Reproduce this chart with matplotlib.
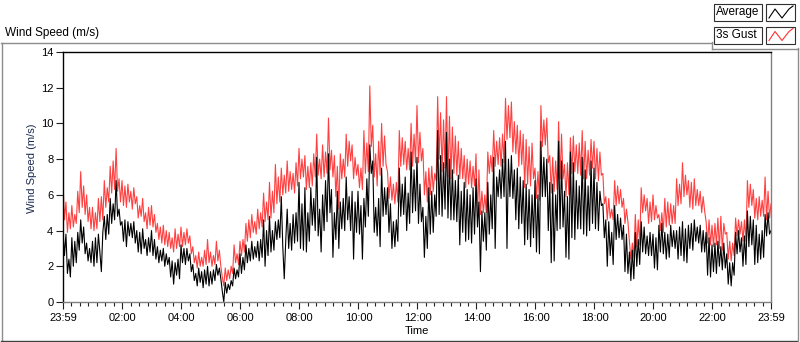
import numpy as np
import pandas as pd
import matplotlib
matplotlib.use("Agg")
import matplotlib.pyplot as plt
import matplotlib.dates as mdates
from matplotlib.lines import Line2D
from matplotlib.patches import Rectangle

plt.rcParams['font.family'] = ['Liberation Sans', 'DejaVu Sans']

# wind speed, one value every 3 minutes from 23:59 (one row per hour)
gust = [
    6.7, 4.6, 5.6, 3.9, 5.0, 4.1, 5.4, 4.2, 4.9, 4.4, 6.2, 5.0, 7.3, 5.3, 6.5, 4.9, 6.0, 4.5, 5.3, 4.1,
    5.3, 4.0, 5.0, 4.1, 5.8, 4.5, 5.9, 4.6, 6.8, 5.3, 6.4, 5.6, 7.6, 6.1, 7.9, 6.3, 8.6, 6.2, 6.9, 5.6,
    6.8, 5.4, 6.5, 5.3, 6.6, 5.6, 6.2, 5.2, 6.4, 5.5, 5.9, 4.7, 5.4, 4.8, 5.8, 4.5, 5.0, 4.1, 5.3, 4.3,
    5.4, 4.2, 4.9, 3.9, 4.4, 3.5, 4.2, 3.3, 4.3, 3.2, 4.0, 3.1, 3.9, 3.0, 3.6, 2.8, 4.1, 3.0, 3.8, 3.1,
    4.2, 3.1, 3.9, 3.2, 4.1, 3.3, 3.7, 2.7, 3.1, 2.2, 2.6, 1.9, 2.8, 2.0, 2.5, 2.0, 2.9, 2.1, 3.5, 2.2,
    2.8, 2.0, 2.6, 2.1, 3.4, 2.3, 2.9, 2.0, 1.4, 0.9, 1.9, 1.2, 1.8, 1.3, 2.0, 1.6, 3.2, 2.2, 2.7, 2.1,
    3.4, 2.6, 3.5, 2.8, 4.4, 3.4, 4.6, 3.6, 4.9, 3.9, 4.5, 3.8, 5.2, 4.1, 5.0, 4.2, 6.1, 4.5, 5.6, 4.6,
    6.7, 4.7, 6.2, 5.0, 7.7, 5.5, 7.0, 5.6, 7.5, 6.0, 7.1, 6.1, 7.9, 6.2, 7.3, 6.3, 7.2, 6.1, 7.8, 6.5,
    8.6, 6.9, 8.0, 7.0, 8.2, 6.3, 7.6, 6.4, 7.8, 6.5, 8.3, 7.0, 9.4, 7.1, 8.0, 6.9, 8.8, 7.0, 8.4, 7.2,
    10.3, 7.4, 8.5, 7.0, 8.2, 5.9, 7.6, 5.2, 8.3, 6.9, 8.0, 7.0, 9.4, 7.6, 9.0, 7.9, 8.8, 6.9, 8.1, 7.1,
    7.7, 6.4, 7.5, 6.3, 9.6, 7.2, 8.9, 7.3, 12.1, 8.7, 9.9, 7.0, 8.3, 6.5, 9.0, 7.1, 10.0, 7.6, 9.3, 7.7,
    7.3, 5.8, 7.0, 5.7, 6.6, 5.5, 6.7, 5.6, 9.6, 7.6, 9.2, 7.7, 9.0, 7.4, 8.6, 7.4, 10.0, 7.6, 9.4, 7.8,
    11.0, 7.8, 9.5, 7.9, 8.6, 6.0, 7.3, 5.6, 7.5, 6.0, 7.6, 6.2, 7.2, 6.8, 11.5, 8.0, 10.6, 7.3, 10.2, 7.5,
    11.5, 7.0, 10.4, 6.9, 9.8, 7.2, 9.3, 7.1, 9.0, 6.9, 8.6, 6.9, 8.2, 6.4, 8.0, 6.6, 7.9, 6.4, 7.6, 6.5,
    8.3, 5.0, 7.4, 4.9, 6.2, 5.0, 6.0, 5.0, 8.4, 7.2, 8.2, 7.3, 9.6, 7.6, 9.0, 7.7, 9.2, 7.6, 9.4, 7.8,
    11.4, 9.1, 11.0, 9.2, 11.2, 8.4, 10.1, 8.3, 9.9, 7.6, 9.6, 7.7, 9.4, 6.4, 9.1, 6.6, 8.7, 6.5, 8.9, 6.9,
    7.5, 5.8, 7.3, 5.7, 11.0, 8.7, 10.2, 8.8, 10.3, 7.8, 8.2, 6.1, 8.1, 6.2, 7.9, 6.3, 10.1, 6.9, 9.4, 6.9,
    7.7, 5.9, 7.8, 6.0, 9.2, 7.2, 9.3, 7.3, 8.8, 7.2, 8.9, 7.1, 9.6, 6.9, 9.0, 6.9, 8.5, 7.1, 9.1, 7.5,
    9.0, 6.9, 8.6, 6.8, 8.4, 7.1, 7.2, 5.5, 5.9, 4.6, 5.8, 4.7, 5.2, 4.6, 6.8, 5.4, 6.5, 5.5, 6.3, 5.3,
    5.8, 4.4, 5.2, 4.5, 3.4, 2.4, 3.3, 2.5, 4.9, 3.1, 4.6, 3.2, 6.4, 5.0, 6.0, 5.1, 5.8, 4.4, 5.6, 4.5,
    6.0, 4.6, 5.4, 4.7, 4.9, 4.0, 5.0, 3.9, 5.8, 4.2, 5.6, 4.3, 5.5, 4.4, 5.4, 4.4, 6.9, 5.4, 6.6, 5.5,
    7.8, 5.9, 7.1, 6.0, 6.8, 5.3, 6.7, 5.2, 6.9, 5.4, 6.3, 5.4, 6.2, 5.0, 5.9, 5.1, 4.5, 3.3, 4.6, 3.2,
    4.3, 3.1, 4.4, 3.2, 4.7, 3.0, 4.8, 2.9, 4.4, 3.8, 3.9, 2.4, 3.4, 2.3, 3.3, 2.6, 4.7, 3.7, 4.6, 3.8,
    4.5, 3.4, 4.6, 3.4, 6.8, 5.3, 6.6, 5.4, 6.3, 4.7, 5.8, 4.6, 5.9, 4.8, 5.7, 4.8, 7.0, 4.6, 6.2, 4.7,
    5.5,
]
average = [
    4.0, 2.6, 3.8, 1.6, 2.4, 1.4, 3.6, 2.0, 3.4, 2.2, 3.9, 2.9, 4.6, 3.3, 4.2, 2.7, 3.3, 2.3, 3.0, 2.2,
    3.4, 2.0, 3.6, 2.2, 3.8, 2.8, 1.7, 3.9, 4.8, 3.5, 4.9, 3.8, 5.8, 4.4, 5.5, 4.6, 6.8, 4.8, 5.2, 4.3,
    4.5, 3.4, 4.6, 3.1, 4.5, 3.7, 4.4, 3.6, 4.5, 3.3, 4.0, 2.8, 3.9, 2.7, 4.1, 3.0, 3.5, 2.6, 3.6, 2.8,
    4.0, 2.6, 3.5, 2.4, 3.1, 2.2, 2.9, 2.3, 3.0, 2.0, 2.7, 2.1, 2.5, 1.4, 2.3, 1.0, 2.2, 1.5, 2.4, 1.3,
    3.2, 2.2, 3.0, 2.1, 3.0, 2.3, 2.7, 1.7, 2.1, 1.2, 1.6, 0.9, 1.9, 1.1, 1.7, 0.8, 1.8, 1.0, 2.0, 0.9,
    1.7, 1.0, 1.8, 1.2, 2.1, 1.5, 1.9, 1.3, 0.6, 0.0, 1.1, 0.5, 1.0, 0.7, 1.2, 0.9, 1.9, 1.3, 1.8, 1.4,
    2.7, 1.6, 2.5, 1.8, 3.2, 2.2, 3.0, 2.3, 3.4, 2.4, 3.1, 2.5, 3.4, 2.3, 3.5, 2.5, 4.6, 2.0, 4.0, 2.6,
    4.8, 2.8, 4.0, 2.9, 4.5, 3.5, 4.6, 3.6, 5.9, 3.1, 1.3, 3.4, 5.2, 3.0, 4.4, 2.9, 4.9, 3.3, 5.0, 3.4,
    6.7, 3.0, 5.5, 2.9, 6.4, 2.8, 5.0, 3.4, 6.4, 4.3, 5.8, 4.0, 8.1, 3.7, 5.2, 2.8, 6.0, 4.0, 6.8, 4.5,
    8.3, 5.0, 6.3, 2.5, 5.0, 3.5, 6.2, 3.0, 5.6, 4.1, 5.8, 4.0, 7.0, 4.6, 5.9, 4.0, 6.2, 2.4, 5.6, 3.9,
    6.2, 3.8, 5.4, 2.4, 5.8, 4.2, 6.9, 4.8, 8.8, 7.2, 7.9, 3.9, 5.3, 3.7, 5.8, 3.1, 7.5, 4.8, 6.4, 4.9,
    6.4, 3.9, 5.5, 3.0, 4.5, 3.1, 4.6, 3.4, 7.5, 4.8, 6.6, 4.9, 7.0, 4.0, 6.1, 4.4, 8.4, 5.0, 7.4, 5.1,
    8.1, 4.4, 6.6, 4.5, 5.3, 2.5, 4.8, 3.0, 6.4, 3.8, 6.2, 3.9, 6.0, 4.8, 9.6, 4.9, 8.2, 4.8, 7.8, 5.2,
    9.5, 4.7, 8.0, 4.6, 7.4, 4.6, 6.8, 4.5, 7.1, 3.2, 6.2, 3.9, 6.7, 3.4, 6.3, 3.5, 6.0, 3.3, 6.4, 3.8,
    6.9, 4.2, 5.6, 1.7, 5.1, 3.4, 5.0, 2.9, 6.7, 3.8, 6.0, 4.1, 8.1, 3.0, 7.0, 5.9, 7.4, 5.8, 8.0, 5.9,
    9.0, 3.0, 8.0, 5.9, 8.2, 5.8, 7.4, 4.6, 7.5, 4.1, 7.0, 4.4, 6.8, 3.2, 6.6, 3.5, 6.3, 3.1, 6.0, 3.6,
    6.8, 2.8, 6.0, 2.7, 9.0, 5.9, 8.1, 5.9, 8.0, 4.0, 6.7, 2.2, 6.6, 2.3, 6.0, 4.0, 9.0, 4.1, 7.9, 4.2,
    6.2, 2.5, 5.9, 2.4, 8.4, 3.6, 7.8, 3.5, 6.8, 4.1, 6.5, 4.1, 8.1, 3.8, 7.4, 3.7, 6.5, 4.0, 7.9, 4.4,
    7.5, 4.1, 6.7, 4.0, 6.2, 5.4, 5.5, 3.6, 4.6, 2.0, 4.5, 2.6, 3.9, 2.1, 5.4, 3.5, 4.9, 3.6, 4.7, 3.5,
    4.3, 1.7, 3.8, 1.6, 2.8, 1.2, 2.9, 1.3, 3.9, 2.0, 3.5, 2.1, 4.5, 2.8, 4.2, 2.7, 3.7, 2.6, 3.9, 2.6,
    3.8, 1.9, 3.6, 1.8, 4.3, 2.8, 4.4, 2.7, 3.9, 2.4, 3.8, 2.5, 4.3, 3.1, 4.0, 3.0, 4.0, 2.4, 4.2, 2.6,
    4.5, 2.3, 4.1, 2.2, 4.3, 3.0, 4.4, 2.9, 4.6, 3.4, 4.2, 3.3, 4.3, 2.8, 4.0, 2.8, 3.9, 1.5, 3.6, 1.4,
    3.2, 1.7, 3.3, 1.6, 3.4, 2.0, 3.1, 1.8, 3.3, 1.9, 2.7, 1.0, 2.2, 0.9, 2.2, 1.5, 3.9, 2.7, 4.0, 2.8,
    3.6, 2.0, 3.7, 2.1, 5.1, 3.1, 4.8, 3.2, 4.6, 2.1, 4.3, 2.2, 3.8, 2.4, 4.0, 2.5, 4.9, 3.7, 5.0, 3.8,
    4.0,
]

start = pd.Timestamp('2024-01-01 23:59')
end = start + pd.Timedelta(days=1)
times = pd.date_range(start, periods=len(gust), freq='3min')

major = [start] + [pd.Timestamp('2024-01-02 %02d:00' % h) for h in range(2, 24, 2)] + [end]
major_num = mdates.date2num(major)
minor_num = np.concatenate([np.linspace(a, b, 8)[1:-1] for a, b in zip(major_num[:-1], major_num[1:])])

fig = plt.figure(figsize=(8, 3.42), dpi=100)
ax = fig.add_axes([63 / 800, 40 / 342, 708 / 800, 250 / 342])

ax.plot(times, gust, color='#ff4040', lw=0.8)
ax.plot(times, average, color='black', lw=0.8)

ax.set_xlim(major_num[0], major_num[-1])
ax.set_ylim(0, 14)
ax.set_yticks(range(0, 15, 2))
ax.set_xticks(major_num)
ax.set_xticks(minor_num, minor=True)
ax.xaxis.set_major_formatter(mdates.DateFormatter('%H:%M'))

ax.tick_params(axis='both', which='major', direction='out', length=5, width=0.8,
               labelsize=8, pad=2, color='#202020')
ax.tick_params(axis='x', which='major', pad=3)
ax.tick_params(axis='x', which='minor', direction='out', length=3, width=0.8, color='#202020')

ax.spines['top'].set_color('black')
ax.spines['left'].set_color('black')
ax.spines['right'].set_color('#808080')
ax.spines['bottom'].set_color('#808080')
for s in ax.spines.values():
    s.set_linewidth(1.0)

ax.set_xlabel('Time', fontsize=8, labelpad=2)
ax.set_ylabel('Wind Speed (m/s)', fontsize=8, color='#1c2a50')
ax.yaxis.set_label_coords(-0.037, 0.536)

# outer panel frame
W, H = 800, 342
def fline(x0, y0, x1, y1, c='#8c8c8c'):
    fig.add_artist(Line2D([x0 / W, x1 / W], [1 - y0 / H, 1 - y1 / H], color=c, lw=1.0))

fline(1, 42.5, 712, 42.5)
fline(1.5, 42.5, 1.5, 341)
fline(1, 340.5, 797, 340.5, c='#404040')
fline(797.5, 48, 797.5, 341)
fline(712, 48.5, 798, 48.5)
fline(712, 42, 712, 49)

fig.text(5 / W, 1 - 33 / H, 'Wind Speed (m/s)', fontsize=8.5, va='center', ha='left')

# legend boxes
for i, (name, col) in enumerate([('Average', 'black'), ('3s Gust', '#ff3030')]):
    y0 = 4 + i * 22.5
    fig.add_artist(Rectangle((714 / W, 1 - (y0 + 17) / H), 48 / W, 17 / H,
                             transform=fig.transFigure, facecolor='white',
                             edgecolor='#303030', lw=0.8))
    fig.text(716 / W, 1 - (y0 + 8.5) / H, name, fontsize=8.5, va='center', ha='left')
    fig.add_artist(Rectangle((766 / W, 1 - (y0 + 17) / H), 29 / W, 17 / H,
                             transform=fig.transFigure, facecolor='white',
                             edgecolor='#303030', lw=0.8))
    xs = np.array([769, 775, 782, 789, 793]) / W
    ys = 1 - (y0 + np.array([14, 5, 14, 5, 2])) / H
    fig.add_artist(Line2D(xs, ys, color=col, lw=0.8))

fig.savefig('out.png', dpi=100)
